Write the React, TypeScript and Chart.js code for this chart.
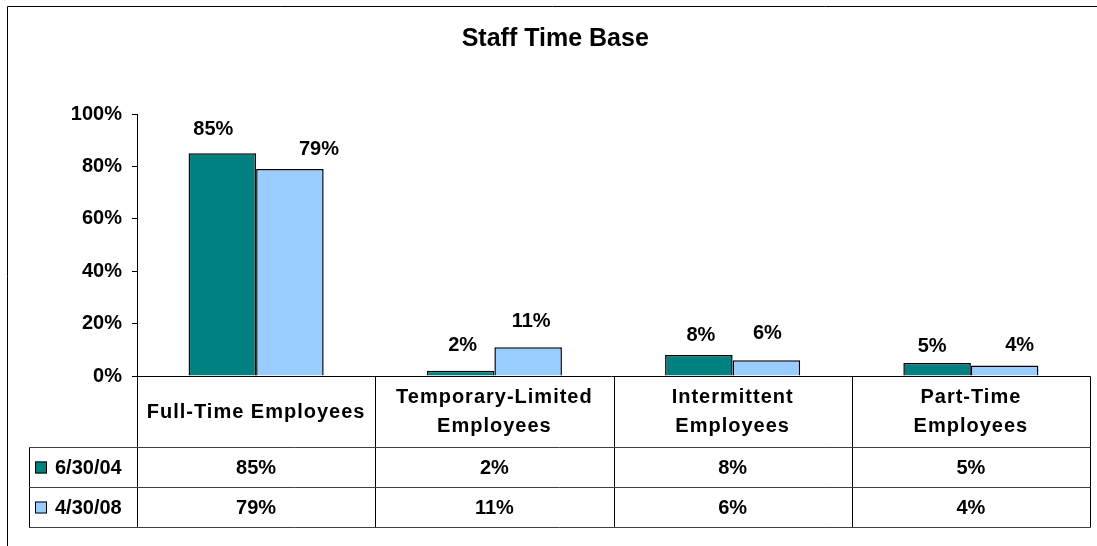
import React, { useEffect, useRef } from 'react';
import { Chart, registerables } from 'chart.js';

Chart.register(...registerables);

// ---- data ----
const chartTitle = 'Staff Time Base';
const categories: string[][] = [
  ['Full-Time Employees'],
  ['Temporary-Limited', 'Employees'],
  ['Intermittent', 'Employees'],
  ['Part-Time', 'Employees'],
];
const seriesNames = ['6/30/04', '4/30/08'];
const series2004 = [85, 2, 8, 5];
const series2008 = [79, 11, 6, 4];
const yMax = 100;
const yStep = 20;

// ---- style ----
const COLORS = ['#008080', '#99CCFF'];
const FONT = '"Liberation Sans", Arial, Helvetica, sans-serif';
const W = 1097;
const H = 546;
const HEADER_H = 71;
const ROW_H = 40;
const TABLE_LEFT = 29;
const FRAME_X = 7.5;
const FRAME_Y = 6.5;
const TEXT_SIZE = 20;
// label placement relative to each bar (pixels): horizontal nudge and gap above bar top
const LABEL_DX = [
  [-9, 2, 2, -5],
  [29, 3, 1, 15],
];
const LABEL_GAP = [
  [24, 25, 20, 16],
  [20, 26, 27, 20],
];

const framePlugin = {
  id: 'frame',
  beforeDraw(chart: any) {
    const ctx = chart.ctx as CanvasRenderingContext2D;
    ctx.save();
    ctx.fillStyle = '#fff';
    ctx.fillRect(0, 0, chart.width, chart.height);
    ctx.strokeStyle = '#000';
    ctx.lineWidth = 1;
    ctx.beginPath();
    ctx.moveTo(FRAME_X, chart.height + 2);
    ctx.lineTo(FRAME_X, FRAME_Y);
    ctx.lineTo(chart.width + 2, FRAME_Y);
    ctx.stroke();
    ctx.fillStyle = '#000';
    ctx.font = `bold 25px ${FONT}`;
    ctx.textAlign = 'center';
    ctx.textBaseline = 'middle';
    ctx.fillText(chartTitle, (FRAME_X + chart.width + 6) / 2, 39);
    ctx.restore();
  },
};

const labelPlugin = {
  id: 'barLabels',
  afterDatasetsDraw(chart: any) {
    const ctx = chart.ctx as CanvasRenderingContext2D;
    ctx.save();
    ctx.fillStyle = '#000';
    ctx.font = `bold ${TEXT_SIZE}px ${FONT}`;
    ctx.textAlign = 'center';
    ctx.textBaseline = 'middle';
    chart.data.datasets.forEach((ds: any, di: number) => {
      const meta = chart.getDatasetMeta(di);
      meta.data.forEach((el: any, i: number) => {
        ctx.fillText(`${ds.data[i]}%`, el.x + LABEL_DX[di][i], el.y - LABEL_GAP[di][i]);
      });
    });
    ctx.restore();
  },
};

const tablePlugin = {
  id: 'dataTable',
  afterDraw(chart: any) {
    const ctx = chart.ctx as CanvasRenderingContext2D;
    const xs = chart.scales.x;
    const area = chart.chartArea;
    const n = categories.length;
    const colW = (area.right - area.left) / n;
    const top = Math.round(area.bottom) + 0.5;
    const rowTop = top + HEADER_H;
    const bottom = rowTop + ROW_H * seriesNames.length;
    const right = Math.round(area.right) + 0.5;
    const left = Math.round(area.left) + 0.5;
    ctx.save();
    ctx.strokeStyle = '#000';
    ctx.lineWidth = 1;
    ctx.beginPath();
    ctx.moveTo(left - 5, top);
    ctx.lineTo(right, top);
    for (let i = 0; i <= n; i++) {
      const x = Math.round(area.left + colW * i) + 0.5;
      ctx.moveTo(x, top);
      ctx.lineTo(x, bottom);
    }
    ctx.moveTo(TABLE_LEFT + 0.5, rowTop);
    ctx.lineTo(TABLE_LEFT + 0.5, bottom);
    ctx.stroke();
    ctx.strokeStyle = '#404040';
    ctx.beginPath();
    for (let r = 0; r <= seriesNames.length; r++) {
      const y = rowTop + ROW_H * r;
      ctx.moveTo(TABLE_LEFT, y);
      ctx.lineTo(right, y);
    }
    ctx.stroke();

    ctx.fillStyle = '#000';
    ctx.textAlign = 'center';
    ctx.textBaseline = 'middle';
    ctx.font = `bold ${TEXT_SIZE}px ${FONT}`;
    (ctx as any).letterSpacing = '1px';
    categories.forEach((lines, i) => {
      const cx = xs.getPixelForValue(i);
      const cy = top + HEADER_H / 2;
      const lh = 29;
      lines.forEach((ln, k) => {
        ctx.fillText(ln, cx, cy + (k - (lines.length - 1) / 2) * lh);
      });
    });
    (ctx as any).letterSpacing = '0px';
    const rows = [series2004, series2008];
    rows.forEach((vals, r) => {
      const cy = rowTop + ROW_H * r + ROW_H / 2;
      ctx.fillStyle = COLORS[r];
      ctx.fillRect(35, cy - 6, 12, 12);
      ctx.strokeStyle = '#000';
      ctx.strokeRect(35.5, cy - 5.5, 11, 11);
      ctx.fillStyle = '#000';
      ctx.textAlign = 'left';
      ctx.font = `bold ${TEXT_SIZE}px ${FONT}`;
      ctx.fillText(seriesNames[r], 55, cy + 1);
      ctx.textAlign = 'center';
      vals.forEach((v, i) => {
        ctx.fillText(`${v}%`, xs.getPixelForValue(i), cy + 1);
      });
    });
    ctx.restore();
  },
};

export default function App() {
  const ref = useRef<HTMLCanvasElement>(null);
  useEffect(() => {
    document.body.style.margin = '0';
    const canvas = ref.current!;
    const chart = new Chart(canvas, {
      type: 'bar',
      data: {
        labels: categories.map((c) => c.join(' ')),
        datasets: [
          {
            label: seriesNames[0],
            data: series2004,
            backgroundColor: COLORS[0],
            borderColor: '#000',
            borderWidth: 1.5,
            barPercentage: 1,
            categoryPercentage: 0.567,
          },
          {
            label: seriesNames[1],
            data: series2008,
            backgroundColor: COLORS[1],
            borderColor: '#000',
            borderWidth: 1.5,
            barPercentage: 1,
            categoryPercentage: 0.567,
          },
        ],
      },
      options: {
        responsive: false,
        animation: false,
        devicePixelRatio: 1,
        layout: { padding: { top: 114, left: 0, right: 7, bottom: 170 } },
        plugins: {
          legend: { display: false },
          title: { display: false },
          tooltip: { enabled: false },
        },
        scales: {
          x: {
            display: false,
            offset: true,
          },
          y: {
            min: 0,
            max: yMax,
            afterFit: (s: any) => {
              s.width = 137;
            },
            ticks: {
              stepSize: yStep,
              padding: 10,
              color: '#000',
              font: { family: FONT, size: TEXT_SIZE, weight: 'bold' },
              callback: (v: any) => `${v}%`,
            },
            grid: {
              drawOnChartArea: false,
              drawTicks: true,
              tickLength: 5,
              color: '#000',
            },
            border: { display: true, color: '#000', width: 1 },
          },
        },
      },
      plugins: [framePlugin, labelPlugin, tablePlugin],
    });
    return () => chart.destroy();
  }, []);
  return (
    <canvas
      ref={ref}
      width={W}
      height={H}
      style={{ display: 'block', width: W, height: H }}
    />
  );
}
